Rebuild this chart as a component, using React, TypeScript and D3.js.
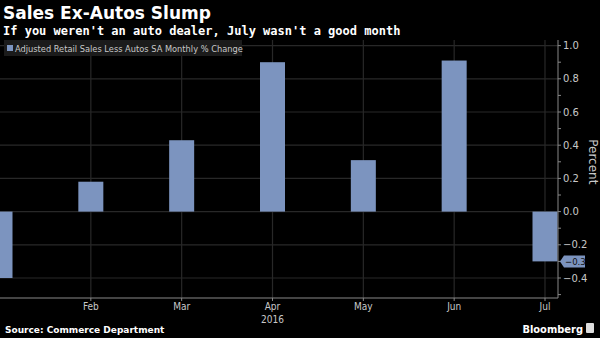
import React from "react";
import * as d3 from "d3";

const months = ["Jan", "Feb", "Mar", "Apr", "May", "Jun", "Jul"];
const values = [-0.4, 0.18, 0.43, 0.9, 0.31, 0.91, -0.3];
const yTicks = [-0.4, -0.2, 0.0, 0.2, 0.4, 0.6, 0.8, 1.0];
const xLabels = ["Feb", "Mar", "Apr", "May", "Jun", "Jul"];

const W = 600;
const H = 338;
const plotLeft = 0;
const plotRight = 558;
const plotTop = 40;
const plotBottom = 298;
const barColor = "#7c94bf";
const gridColor = "#282828";
const textColor = "#c8c8c8";

export default function App() {
  const x = d3.scalePoint<string>().domain(months).range([0, 545]);
  const y = d3.scaleLinear().domain([-0.4, 1.0]).range([278, 45.6]);
  const barW = 25;
  const minor = d3.range(-5, 11).map((d) => d / 10);
  const last = values[values.length - 1];
  const ly = y(last);

  return (
    <svg
      width={W}
      height={H}
      style={{ position: "absolute", left: 0, top: 0, background: "#000" }}
    >
      <rect x={0} y={0} width={W} height={H} fill="#000" />
      {/* grid */}
      {yTicks.map((t) => (
        <line key={"h" + t} x1={plotLeft} x2={plotRight} y1={y(t)} y2={y(t)} stroke={gridColor} strokeWidth={1.2} />
      ))}
      {xLabels.map((m) => (
        <line key={"v" + m} x1={x(m)!} x2={x(m)!} y1={plotTop} y2={plotBottom} stroke={gridColor} strokeWidth={1.2} />
      ))}
      {/* bars */}
      {months.map((m, i) => {
        const v = values[i];
        const y0 = y(0);
        const y1 = y(v);
        return (
          <rect
            key={m}
            x={x(m)! - barW / 2}
            y={Math.min(y0, y1)}
            width={barW}
            height={Math.abs(y1 - y0)}
            fill={barColor}
          />
        );
      })}
      {/* axes */}
      <line x1={plotRight} x2={plotRight} y1={plotTop} y2={plotBottom} stroke="#888" strokeWidth={1} />
      <line x1={plotLeft} x2={plotRight} y1={plotBottom} y2={plotBottom} stroke="#888" strokeWidth={1} />
      {minor.map((t) => (
        <line key={"m" + t} x1={plotRight} x2={plotRight + 3} y1={y(t)} y2={y(t)} stroke="#888" strokeWidth={1} />
      ))}
      {yTicks.map((t) => (
        <text
          key={"yl" + t}
          x={plotRight + 5}
          y={y(t)}
          dy="0.35em"
          fill={textColor}
          fontSize={10}
          fontFamily="'DejaVu Sans', sans-serif"
        >
          {d3.format(".1f")(t)}
        </text>
      ))}
      {xLabels.map((m) => (
        <line key={"xt" + m} x1={x(m)!} x2={x(m)!} y1={plotBottom} y2={plotBottom + 3} stroke="#888" />
      ))}
      {xLabels.map((m) => (
        <text
          key={"xl" + m}
          x={x(m)!}
          y={310}
          textAnchor="middle"
          fill={textColor}
          fontSize={10}
          fontFamily="'DejaVu Sans Condensed', 'DejaVu Sans', sans-serif"
        >
          {m}
        </text>
      ))}
      <text x={x("Apr")!} y={323} textAnchor="middle" fill={textColor} fontSize={10} fontFamily="'DejaVu Sans Condensed', 'DejaVu Sans', sans-serif">
        2016
      </text>
      {/* last value tag */}
      <path
        d={`M${plotRight + 2},${ly} L${plotRight + 6},${ly - 6} L${plotRight + 27},${ly - 6} L${plotRight + 27},${ly + 6} L${plotRight + 6},${ly + 6} Z`}
        fill={barColor}
      />
      <text x={plotRight + 7} y={ly} dy="0.35em" fill="#111" fontSize={9.5} fontFamily="'DejaVu Sans Condensed', 'DejaVu Sans', sans-serif">
        {d3.format(".1f")(last)}
      </text>
      <text
        transform={`translate(589, ${y(0.3)}) rotate(90)`}
        textAnchor="middle"
        fill={textColor}
        fontSize={12}
        fontFamily="'DejaVu Sans', sans-serif"
      >
        Percent
      </text>
      {/* legend */}
      <rect x={4} y={40} width={238} height={16} fill="#1b1b1b" />
      <rect x={7} y={45} width={6} height={6} fill={barColor} />
      <text x={15} y={51.5} fill={textColor} fontSize={9.2} fontFamily="'DejaVu Sans Condensed', 'DejaVu Sans', sans-serif">
        Adjusted Retail Sales Less Autos SA Monthly % Change
      </text>
      {/* titles */}
      <text x={3} y={19} fill="#fff" fontSize={17} fontWeight="bold" fontFamily="'DejaVu Sans', sans-serif">
        Sales Ex-Autos Slump
      </text>
      <text x={3} y={35} fill="#fff" fontSize={12} fontWeight="bold" fontFamily="'DejaVu Sans Mono', monospace">
        If you weren't an auto dealer, July wasn't a good month
      </text>
      <text x={5} y={333} fill="#fff" fontSize={9} fontWeight="bold" fontFamily="'DejaVu Sans', sans-serif">
        Source: Commerce Department
      </text>
      <text x={583} y={333} textAnchor="end" fill="#fff" fontSize={11} fontWeight="bold" fontFamily="'DejaVu Sans Condensed', 'DejaVu Sans', sans-serif">
        Bloomberg
      </text>
      <rect x={586} y={323} width={8} height={10} rx={1} fill="#ddd" />
    </svg>
  );
}
